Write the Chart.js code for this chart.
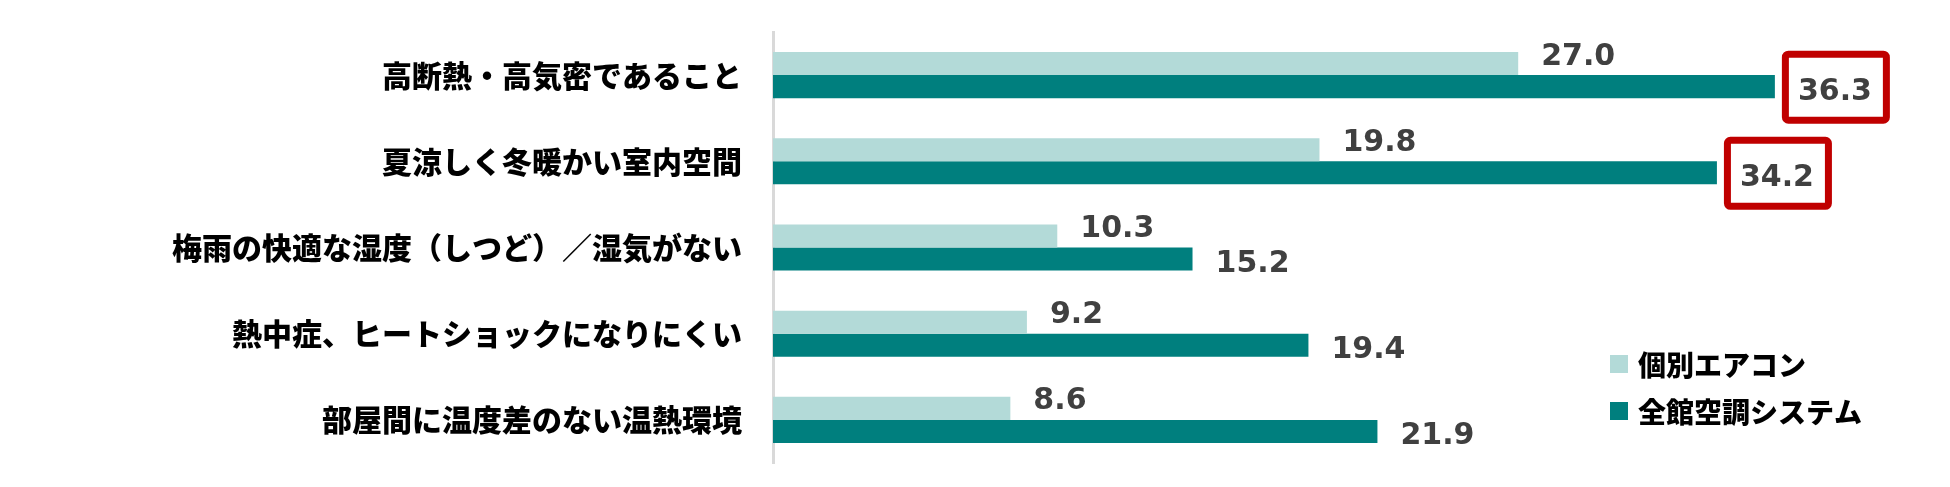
<!DOCTYPE html>
<html>
<head>
<meta charset="utf-8">
<script src="https://cdn.jsdelivr.net/npm/chart.js@4.4.0/dist/chart.umd.min.js"></script>
<style>
  body { margin: 0; background: #fff; }
  #wrap { width: 1950px; height: 487px; position: relative; }
</style>
</head>
<body>
<div id="wrap"><canvas id="chart"></canvas></div>
<script>
const categories = [
    "高断熱・高気密であること",
    "夏涼しく冬暖かい室内空間",
    "梅雨の快適な湿度（しつど）／湿気がない",
    "熱中症、ヒートショックになりにくい",
    "部屋間に温度差のない温熱環境"
];
const seriesNames = ["個別エアコン", "全館空調システム"];
const kobetsuValues = [27.0, 19.8, 10.3, 9.2, 8.6];
const zenkanValues = [36.3, 34.2, 15.2, 19.4, 21.9];
const highlighted = [true, true, false, false, false]; // 全館空調の上位2つを赤枠で強調

const lightColor = '#B3DAD8';
const darkColor = '#007F7E';

// 値ラベル（と赤枠）を描く
const valueLabels = {
    id: 'valueLabels',
    afterDatasetsDraw(chart) {
        const ctx = chart.ctx;
        ctx.save();
        ctx.font = 'bold 30px "DejaVu Sans"';
        ctx.fillStyle = '#404040';
        ctx.textAlign = 'left';
        ctx.textBaseline = 'alphabetic';
        chart.data.datasets.forEach((ds, di) => {
            const meta = chart.getDatasetMeta(di);
            meta.data.forEach((bar, i) => {
                const txt = ds.data[i].toFixed(1);
                const dy = di === 0 ? 1 : 13;
                ctx.fillText(txt, bar.x + 23, bar.y + dy);
                if (di === 1 && highlighted[i]) {
                    ctx.strokeStyle = '#C00000';
                    ctx.lineWidth = 7;
                    ctx.lineJoin = 'round';
                    ctx.beginPath();
                    ctx.roundRect(bar.x + 10.5, bar.y - 32.5, 101, 66, 3);
                    ctx.stroke();
                }
            });
        });
        ctx.restore();
    }
};

// 凡例（グラフ右下）
const sideLegend = {
    id: 'sideLegend',
    afterDraw(chart) {
        const ctx = chart.ctx;
        const x = 1610;
        const ys = [364, 411];
        ctx.save();
        ctx.font = '900 28px "Noto Sans CJK JP"';
        ctx.textBaseline = 'middle';
        ctx.textAlign = 'left';
        chart.data.datasets.forEach((ds, di) => {
            ctx.fillStyle = ds.backgroundColor;
            ctx.fillRect(x, ys[di] - 9, 18, 18);
            ctx.fillStyle = '#000';
            ctx.fillText(ds.label, x + 28, ys[di] + 1);
        });
        ctx.restore();
    }
};

const ctx = document.getElementById('chart').getContext('2d');
new Chart(ctx, {
    type: 'bar',
    data: {
        labels: categories,
        datasets: [{
            label: seriesNames[0],
            data: kobetsuValues,
            backgroundColor: lightColor,
            categoryPercentage: 0.535,
            barPercentage: 1.0
        }, {
            label: seriesNames[1],
            data: zenkanValues,
            backgroundColor: darkColor,
            categoryPercentage: 0.535,
            barPercentage: 1.0
        }]
    },
    options: {
        indexAxis: 'y',
        responsive: true,
        maintainAspectRatio: false,
        animation: false,
        layout: {
            padding: { top: 32, bottom: 24, left: 0, right: 73 }
        },
        plugins: {
            legend: { display: false },
            tooltip: { enabled: false }
        },
        scales: {
            x: {
                display: false,
                min: 0,
                max: 40
            },
            y: {
                grid: { display: false, drawTicks: false },
                border: { display: true, color: '#D9D9D9', width: 3 },
                ticks: {
                    padding: 31,
                    color: '#000',
                    font: { family: '"Noto Sans CJK JP"', size: 30, weight: '900' }
                },
                afterFit(scale) {
                    scale.width = 773;
                    scale.paddingTop = 0;
                    scale.paddingBottom = 0;
                }
            }
        }
    },
    plugins: [valueLabels, sideLegend]
});
</script>
</body>
</html>
